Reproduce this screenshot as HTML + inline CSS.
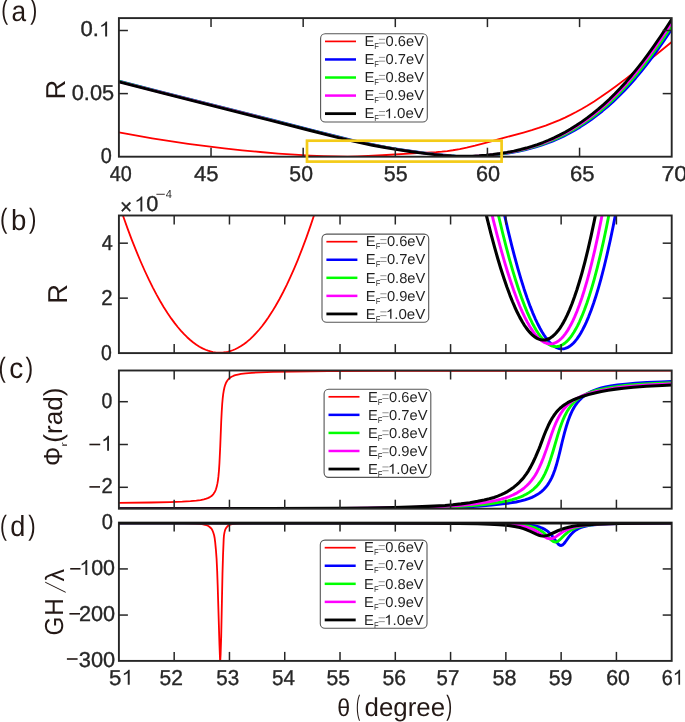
<!DOCTYPE html>
<html><head><meta charset="utf-8"><title>figure</title>
<style>html,body{margin:0;padding:0;background:#fff;overflow:hidden;}svg{display:block;will-change:transform;}text{font-family:"Liberation Sans", sans-serif;text-rendering:geometricPrecision;}</style>
</head><body>
<svg width="685" height="722" viewBox="0 0 685 722">
<rect x="0" y="0" width="685" height="722" fill="#ffffff"/>
<defs>
<clipPath id="ca"><rect x="118.90" y="18.10" width="552.80" height="138.60"/></clipPath>
<clipPath id="cb"><rect x="118.90" y="215.50" width="552.80" height="137.60"/></clipPath>
<clipPath id="cc"><rect x="118.90" y="370.50" width="552.80" height="138.20"/></clipPath>
<clipPath id="cd"><rect x="118.90" y="522.60" width="552.80" height="138.30"/></clipPath>
</defs>
<path d="M118.90,132.42L135.53,135.48L152.15,138.34L170.16,141.19L188.17,143.81L206.18,146.20L224.20,148.36L242.21,150.30L260.22,152.02L278.23,153.53L294.85,154.71L310.09,155.58L323.95,156.17L336.42,156.47L347.50,156.53L357.20,156.39L368.28,156.01L382.14,155.27L416.77,153.09L436.17,152.08L441.71,151.65L447.25,151.03L452.80,150.25L459.72,149.04L466.65,147.63L474.96,145.68L484.66,143.15L505.44,137.42L523.46,132.54L531.77,130.12L538.70,127.93L545.62,125.54L552.55,122.93L559.48,120.06L565.02,117.58L570.56,114.91L576.10,112.06L581.64,109.01L587.19,105.75L594.11,101.43L601.04,96.85L607.97,92.03L616.28,85.99L625.98,78.64L637.06,69.94L655.07,55.43L671.70,42.00" fill="none" stroke="#ff0000" stroke-width="1.80" stroke-linejoin="round" clip-path="url(#ca)"/>
<path d="M118.90,80.90L160.46,91.56L272.69,119.87L314.25,130.57L336.42,136.23L350.27,139.57L362.74,142.38L375.21,144.96L387.68,147.31L400.15,149.42L412.62,151.29L425.09,152.94L437.56,154.38L447.25,155.30L455.57,155.88L462.49,156.19L469.42,156.30L476.35,156.20L483.28,155.88L490.20,155.38L497.13,154.70L504.06,153.84L510.99,152.78L517.91,151.52L524.84,150.03L530.38,148.66L535.92,147.11L541.47,145.38L547.01,143.44L552.55,141.29L558.09,138.92L563.63,136.32L569.18,133.49L574.72,130.42L580.26,127.10L585.80,123.53L591.34,119.70L596.88,115.59L602.43,111.20L607.97,106.52L613.51,101.54L619.05,96.24L624.59,90.61L630.14,84.65L635.68,78.34L641.22,71.68L646.76,64.70L652.30,57.40L657.85,49.79L663.39,41.89L670.31,31.63L671.70,29.53" fill="none" stroke="#0000ff" stroke-width="2.40" stroke-linejoin="round" clip-path="url(#ca)"/>
<path d="M118.90,81.24L160.46,91.90L271.30,119.85L312.86,130.55L335.03,136.21L348.89,139.56L361.36,142.37L373.83,144.95L386.29,147.30L398.76,149.42L411.23,151.30L423.70,152.96L436.17,154.40L445.87,155.32L454.18,155.91L461.11,156.21L468.04,156.30L474.96,156.18L481.89,155.84L488.82,155.32L495.75,154.62L502.67,153.73L509.60,152.65L516.53,151.37L523.46,149.85L529.00,148.45L534.54,146.87L540.08,145.11L545.62,143.14L551.16,140.96L556.71,138.56L562.25,135.92L567.79,133.06L573.33,129.95L578.87,126.60L584.42,122.99L589.96,119.11L595.50,114.97L601.04,110.54L606.58,105.81L612.13,100.78L617.67,95.43L623.21,89.76L628.75,83.74L634.29,77.38L639.83,70.68L645.38,63.65L650.92,56.30L656.46,48.65L662.00,40.71L668.93,30.40L671.70,26.16" fill="none" stroke="#00ff00" stroke-width="2.40" stroke-linejoin="round" clip-path="url(#ca)"/>
<path d="M118.90,81.58L160.46,92.23L269.92,119.84L311.48,130.54L333.65,136.20L347.50,139.55L359.97,142.36L372.44,144.94L384.91,147.30L397.38,149.42L409.85,151.30L422.32,152.97L434.79,154.42L444.48,155.35L452.80,155.93L459.72,156.22L466.65,156.30L473.58,156.15L480.51,155.80L487.43,155.26L494.36,154.54L501.29,153.62L508.22,152.52L515.14,151.21L522.07,149.66L527.61,148.23L533.15,146.63L538.70,144.84L544.24,142.84L549.78,140.62L555.32,138.19L560.86,135.52L566.40,132.62L571.95,129.48L577.49,126.08L583.03,122.43L588.57,118.52L594.11,114.33L599.66,109.86L605.20,105.09L610.74,100.01L616.28,94.62L621.82,88.89L627.37,82.83L632.91,76.42L638.45,69.67L643.99,62.59L649.53,55.19L655.07,47.50L662.00,37.48L668.93,27.04L671.70,22.75" fill="none" stroke="#ff00ff" stroke-width="2.40" stroke-linejoin="round" clip-path="url(#ca)"/>
<path d="M118.90,81.93L161.85,92.92L268.53,119.82L310.09,130.52L332.26,136.18L347.50,139.85L359.97,142.64L372.44,145.21L384.91,147.54L397.38,149.64L409.85,151.50L422.32,153.15L434.79,154.59L443.10,155.37L451.41,155.95L458.34,156.23L465.27,156.30L472.19,156.13L479.12,155.76L486.05,155.20L492.98,154.45L499.90,153.51L506.83,152.39L513.76,151.05L520.68,149.47L526.23,148.02L531.77,146.38L537.31,144.56L542.85,142.53L548.39,140.28L553.94,137.81L559.48,135.11L565.02,132.17L570.56,128.99L576.10,125.56L581.64,121.88L587.19,117.92L592.73,113.69L598.27,109.18L603.81,104.36L609.35,99.24L614.90,93.80L620.44,88.02L625.98,81.91L631.52,75.45L637.06,68.64L642.61,61.52L648.15,54.08L653.69,46.34L660.62,36.27L667.54,25.78L671.70,19.30" fill="none" stroke="#000000" stroke-width="2.90" stroke-linejoin="round" clip-path="url(#ca)"/>
<g stroke="#262626" stroke-width="1.50" fill="none"><line x1="211.03" y1="156.70" x2="211.03" y2="147.70"/><line x1="211.03" y1="18.10" x2="211.03" y2="27.10"/><line x1="303.17" y1="156.70" x2="303.17" y2="147.70"/><line x1="303.17" y1="18.10" x2="303.17" y2="27.10"/><line x1="395.30" y1="156.70" x2="395.30" y2="147.70"/><line x1="395.30" y1="18.10" x2="395.30" y2="27.10"/><line x1="487.43" y1="156.70" x2="487.43" y2="147.70"/><line x1="487.43" y1="18.10" x2="487.43" y2="27.10"/><line x1="579.57" y1="156.70" x2="579.57" y2="147.70"/><line x1="579.57" y1="18.10" x2="579.57" y2="27.10"/><line x1="118.90" y1="93.60" x2="127.90" y2="93.60"/><line x1="671.70" y1="93.60" x2="662.70" y2="93.60"/><line x1="118.90" y1="30.50" x2="127.90" y2="30.50"/><line x1="671.70" y1="30.50" x2="662.70" y2="30.50"/></g>
<rect x="118.90" y="18.10" width="552.80" height="138.60" fill="none" stroke="#262626" stroke-width="1.90"/>
<rect x="307.0" y="140.7" width="194.6" height="20.9" fill="none" stroke="#f4cb18" stroke-width="2.7"/>
<rect x="320.60" y="33.80" width="106.70" height="88.20" rx="4.6" ry="4.6" fill="#ffffff" stroke="#555555" stroke-width="1.1"/>
<line x1="325.00" y1="41.40" x2="356.00" y2="41.40" stroke="#ff0000" stroke-width="1.70"/>
<text transform="translate(364.39,46.10) scale(1.0250,1)" font-size="14.40" fill="#1f1f1f">E</text>
<text transform="translate(374.27,49.10) scale(0.9300,1)" font-size="8.20" fill="#333333">F</text>
<path d="M378.90,39.30h6.2M378.90,43.10h6.2" stroke="#707070" stroke-width="0.75" fill="none"/>
<text transform="translate(385.53,46.10) scale(1.0215,1)" font-size="14.40" fill="#1f1f1f">0.6eV</text>
<line x1="325.00" y1="59.46" x2="356.00" y2="59.46" stroke="#0000ff" stroke-width="2.50"/>
<text transform="translate(364.39,64.16) scale(1.0250,1)" font-size="14.40" fill="#1f1f1f">E</text>
<text transform="translate(374.27,67.16) scale(0.9300,1)" font-size="8.20" fill="#333333">F</text>
<path d="M378.90,57.36h6.2M378.90,61.16h6.2" stroke="#707070" stroke-width="0.75" fill="none"/>
<text transform="translate(385.53,64.16) scale(1.0215,1)" font-size="14.40" fill="#1f1f1f">0.7eV</text>
<line x1="325.00" y1="77.52" x2="356.00" y2="77.52" stroke="#00ff00" stroke-width="2.50"/>
<text transform="translate(364.39,82.22) scale(1.0250,1)" font-size="14.40" fill="#1f1f1f">E</text>
<text transform="translate(374.27,85.22) scale(0.9300,1)" font-size="8.20" fill="#333333">F</text>
<path d="M378.90,75.42h6.2M378.90,79.22h6.2" stroke="#707070" stroke-width="0.75" fill="none"/>
<text transform="translate(385.53,82.22) scale(1.0215,1)" font-size="14.40" fill="#1f1f1f">0.8eV</text>
<line x1="325.00" y1="95.58" x2="356.00" y2="95.58" stroke="#ff00ff" stroke-width="2.50"/>
<text transform="translate(364.39,100.28) scale(1.0250,1)" font-size="14.40" fill="#1f1f1f">E</text>
<text transform="translate(374.27,103.28) scale(0.9300,1)" font-size="8.20" fill="#333333">F</text>
<path d="M378.90,93.48h6.2M378.90,97.28h6.2" stroke="#707070" stroke-width="0.75" fill="none"/>
<text transform="translate(385.53,100.28) scale(1.0215,1)" font-size="14.40" fill="#1f1f1f">0.9eV</text>
<line x1="325.00" y1="113.64" x2="356.00" y2="113.64" stroke="#000000" stroke-width="2.80"/>
<text transform="translate(364.39,118.34) scale(1.0250,1)" font-size="14.40" fill="#1f1f1f">E</text>
<text transform="translate(374.27,121.34) scale(0.9300,1)" font-size="8.20" fill="#333333">F</text>
<path d="M378.90,111.54h6.2M378.90,115.34h6.2" stroke="#707070" stroke-width="0.75" fill="none"/>
<g transform="translate(384.45,118.34) scale(1.0500,1)" fill="#1f1f1f"><path transform="translate(0.00,0) scale(0.00703,-0.00676)" d="M763 0H583V1147Q518 1085 412.5 1023Q307 961 223 930V1104Q374 1175 487 1276Q600 1377 647 1472H763Z"/><text x="8.01" y="0" font-size="14.40">.0eV</text></g>
<text transform="translate(109.75,180.70) scale(0.9169,1)" font-size="21.60" fill="#262626" stroke="#262626" stroke-width="0.35">40</text>
<text transform="translate(193.99,180.70) scale(1.0211,1)" font-size="21.60" fill="#262626" stroke="#262626" stroke-width="0.35">45</text>
<text transform="translate(289.35,180.70) scale(0.9813,1)" font-size="21.60" fill="#262626" stroke="#262626" stroke-width="0.35">50</text>
<text transform="translate(383.84,180.70) scale(0.9931,1)" font-size="21.60" fill="#262626" stroke="#262626" stroke-width="0.35">55</text>
<text transform="translate(476.00,180.70) scale(1.0007,1)" font-size="21.60" fill="#262626" stroke="#262626" stroke-width="0.35">60</text>
<text transform="translate(569.88,180.70) scale(1.0217,1)" font-size="21.60" fill="#262626" stroke="#262626" stroke-width="0.35">65</text>
<text transform="translate(661.41,180.70) scale(1.0782,1)" font-size="21.60" fill="#262626" stroke="#262626" stroke-width="0.35">70</text>
<g transform="translate(80.44,36.40) scale(1.0231,1)" fill="#262626" stroke="#262626" stroke-width="0.35"><text x="0.00" y="0" font-size="21.60">0.</text><path transform="translate(18.01,0) scale(0.01055,-0.01015)" d="M763 0H583V1147Q518 1085 412.5 1023Q307 961 223 930V1104Q374 1175 487 1276Q600 1377 647 1472H763Z"/></g>
<text transform="translate(71.75,99.50) scale(1.0077,1)" font-size="21.60" fill="#262626" stroke="#262626" stroke-width="0.35">0.05</text>
<text transform="translate(100.82,162.60) scale(0.9201,1)" font-size="21.60" fill="#262626" stroke="#262626" stroke-width="0.35">0</text>
<text transform="translate(1.21,19.40) scale(0.7409,1)" font-size="28.00" fill="#231815">(</text>
<text transform="translate(11.38,21.00) scale(0.9063,1)" font-size="29.00" fill="#231815">a</text>
<text transform="translate(30.28,19.40) scale(0.7543,1)" font-size="28.00" fill="#231815">)</text>
<text transform="translate(65.10,99.54) rotate(-90) scale(1.0000,1)" font-size="27.30" fill="#231815">R</text>
<path d="M118.90,203.69L123.20,216.32L127.51,228.37L131.81,239.82L136.12,250.70L140.42,261.01L144.73,270.75L149.03,279.93L152.72,287.35L156.41,294.36L160.10,300.97L163.79,307.18L167.48,312.98L171.17,318.39L174.86,323.40L177.93,327.27L181.01,330.86L184.08,334.18L187.15,337.23L190.23,340.00L193.30,342.50L196.38,344.73L199.45,346.68L202.53,348.36L205.60,349.76L208.06,350.69L210.52,351.44L212.98,352.02L215.44,352.42L217.90,352.65L220.36,352.70L222.82,352.57L225.28,352.26L227.74,351.78L230.20,351.11L232.66,350.27L235.12,349.25L237.58,348.05L240.65,346.29L243.73,344.26L246.80,341.93L249.87,339.32L252.95,336.42L256.02,333.22L259.10,329.74L262.17,325.96L265.25,321.88L268.32,317.51L272.01,311.86L275.70,305.77L279.39,299.24L283.08,292.26L286.77,284.83L290.46,276.95L294.15,268.60L297.84,259.78L302.14,248.89L306.45,237.35L310.75,225.15L315.05,212.27L319.36,198.71L323.66,184.45L327.97,169.48L332.27,153.80L336.58,137.38L339.65,125.20" fill="none" stroke="#ff0000" stroke-width="1.80" stroke-linejoin="round" clip-path="url(#cb)"/>
<path d="M492.76,158.12L497.07,180.04L500.76,197.88L504.45,214.81L508.14,230.83L511.82,245.90L514.90,257.74L517.97,268.91L521.05,279.39L524.12,289.17L527.20,298.26L530.27,306.63L532.73,312.81L535.19,318.52L537.65,323.75L540.11,328.51L541.95,331.75L543.80,334.73L545.64,337.43L547.49,339.85L549.33,341.98L551.18,343.84L553.02,345.41L554.87,346.69L556.71,347.68L557.94,348.18L559.17,348.55L560.40,348.79L561.63,348.89L562.86,348.87L564.09,348.71L565.32,348.41L566.55,347.99L567.78,347.42L569.63,346.32L571.47,344.92L573.32,343.20L575.16,341.17L577.00,338.83L578.85,336.17L580.69,333.20L582.54,329.90L584.38,326.28L586.23,322.33L588.69,316.56L591.15,310.21L593.61,303.26L596.07,295.71L598.53,287.56L600.99,278.80L604.06,266.99L607.13,254.21L610.21,240.46L613.28,225.71L616.36,209.97L619.43,193.21L622.51,175.44L626.20,152.75L626.81,148.83" fill="none" stroke="#0000ff" stroke-width="2.90" stroke-linejoin="round" clip-path="url(#cb)"/>
<path d="M486.61,159.52L490.92,180.79L495.22,200.94L498.91,217.28L502.60,232.75L506.29,247.33L509.36,258.78L512.44,269.59L515.51,279.74L518.59,289.22L521.66,298.02L524.74,306.13L527.20,312.11L529.66,317.64L532.12,322.70L534.58,327.29L536.42,330.43L538.27,333.29L540.11,335.89L541.95,338.21L543.80,340.25L545.64,342.01L547.49,343.49L549.33,344.69L551.18,345.60L552.41,346.04L553.64,346.36L554.87,346.54L556.10,346.60L557.33,346.52L558.56,346.31L559.79,345.97L561.02,345.50L562.86,344.53L564.71,343.26L566.55,341.68L568.40,339.79L570.24,337.59L572.09,335.07L573.93,332.23L575.77,329.07L577.62,325.59L579.46,321.79L581.92,316.20L584.38,310.03L586.84,303.26L589.30,295.89L591.76,287.91L594.22,279.32L597.30,267.71L600.37,255.13L603.45,241.55L606.52,226.97L609.59,211.37L612.67,194.75L615.74,177.09L618.82,158.39L620.66,146.66" fill="none" stroke="#00ff00" stroke-width="2.90" stroke-linejoin="round" clip-path="url(#cb)"/>
<path d="M480.46,163.60L484.77,183.46L489.07,202.37L493.38,220.30L497.07,234.85L500.76,248.62L504.45,261.58L507.52,271.73L510.59,281.29L513.67,290.24L516.74,298.55L519.82,306.22L522.28,311.88L524.74,317.11L527.20,321.90L529.66,326.24L531.50,329.19L533.35,331.89L535.19,334.32L537.04,336.49L538.88,338.39L540.73,340.01L542.57,341.35L544.41,342.42L546.26,343.20L547.49,343.56L548.72,343.79L549.95,343.89L551.18,343.87L552.41,343.71L553.64,343.41L554.87,342.99L556.10,342.43L557.94,341.33L559.79,339.92L561.63,338.20L563.48,336.17L565.32,333.81L567.17,331.14L569.01,328.13L570.86,324.80L572.70,321.14L574.54,317.13L577.00,311.27L579.46,304.79L581.92,297.69L584.38,289.96L586.84,281.59L589.30,272.58L591.76,262.92L594.84,249.91L597.91,235.85L600.99,220.73L604.06,204.52L607.13,187.22L610.21,168.80L613.28,149.26L613.90,145.21" fill="none" stroke="#ff00ff" stroke-width="2.90" stroke-linejoin="round" clip-path="url(#cb)"/>
<path d="M474.93,164.16L479.23,184.32L483.54,203.41L487.23,218.91L490.92,233.57L494.61,247.39L497.68,258.24L500.76,268.47L503.83,278.07L506.91,287.03L509.98,295.33L512.44,301.50L514.90,307.23L517.36,312.53L519.82,317.37L522.28,321.77L524.12,324.77L525.97,327.50L527.81,329.98L529.66,332.18L531.50,334.12L533.35,335.79L535.19,337.18L537.04,338.30L538.88,339.14L540.11,339.54L541.34,339.82L542.57,339.97L543.80,339.99L545.03,339.89L546.26,339.65L547.49,339.29L548.72,338.79L550.56,337.80L552.41,336.51L554.25,334.92L556.10,333.03L557.94,330.82L559.79,328.31L561.63,325.49L563.48,322.35L565.32,318.90L567.17,315.12L569.63,309.59L572.09,303.47L574.54,296.77L577.00,289.48L579.46,281.58L581.92,273.09L585.00,261.60L588.07,249.15L591.15,235.72L594.22,221.29L597.30,205.86L600.37,189.42L603.45,171.94L606.52,153.42L607.13,149.59" fill="none" stroke="#000000" stroke-width="3.10" stroke-linejoin="round" clip-path="url(#cb)"/>
<g stroke="#262626" stroke-width="1.50" fill="none"><line x1="174.18" y1="353.10" x2="174.18" y2="344.10"/><line x1="174.18" y1="215.50" x2="174.18" y2="224.50"/><line x1="229.46" y1="353.10" x2="229.46" y2="344.10"/><line x1="229.46" y1="215.50" x2="229.46" y2="224.50"/><line x1="284.74" y1="353.10" x2="284.74" y2="344.10"/><line x1="284.74" y1="215.50" x2="284.74" y2="224.50"/><line x1="340.02" y1="353.10" x2="340.02" y2="344.10"/><line x1="340.02" y1="215.50" x2="340.02" y2="224.50"/><line x1="395.30" y1="353.10" x2="395.30" y2="344.10"/><line x1="395.30" y1="215.50" x2="395.30" y2="224.50"/><line x1="450.58" y1="353.10" x2="450.58" y2="344.10"/><line x1="450.58" y1="215.50" x2="450.58" y2="224.50"/><line x1="505.86" y1="353.10" x2="505.86" y2="344.10"/><line x1="505.86" y1="215.50" x2="505.86" y2="224.50"/><line x1="561.14" y1="353.10" x2="561.14" y2="344.10"/><line x1="561.14" y1="215.50" x2="561.14" y2="224.50"/><line x1="616.42" y1="353.10" x2="616.42" y2="344.10"/><line x1="616.42" y1="215.50" x2="616.42" y2="224.50"/><line x1="118.90" y1="298.14" x2="127.90" y2="298.14"/><line x1="671.70" y1="298.14" x2="662.70" y2="298.14"/><line x1="118.90" y1="243.18" x2="127.90" y2="243.18"/><line x1="671.70" y1="243.18" x2="662.70" y2="243.18"/></g>
<rect x="118.90" y="215.50" width="552.80" height="137.60" fill="none" stroke="#262626" stroke-width="1.90"/>
<rect x="322.00" y="234.10" width="106.70" height="88.20" rx="4.6" ry="4.6" fill="#ffffff" stroke="#555555" stroke-width="1.1"/>
<line x1="326.40" y1="241.70" x2="357.40" y2="241.70" stroke="#ff0000" stroke-width="1.70"/>
<text transform="translate(365.79,246.40) scale(1.0250,1)" font-size="14.40" fill="#1f1f1f">E</text>
<text transform="translate(375.67,249.40) scale(0.9300,1)" font-size="8.20" fill="#333333">F</text>
<path d="M380.30,239.60h6.2M380.30,243.40h6.2" stroke="#707070" stroke-width="0.75" fill="none"/>
<text transform="translate(386.93,246.40) scale(1.0215,1)" font-size="14.40" fill="#1f1f1f">0.6eV</text>
<line x1="326.40" y1="259.76" x2="357.40" y2="259.76" stroke="#0000ff" stroke-width="2.50"/>
<text transform="translate(365.79,264.46) scale(1.0250,1)" font-size="14.40" fill="#1f1f1f">E</text>
<text transform="translate(375.67,267.46) scale(0.9300,1)" font-size="8.20" fill="#333333">F</text>
<path d="M380.30,257.66h6.2M380.30,261.46h6.2" stroke="#707070" stroke-width="0.75" fill="none"/>
<text transform="translate(386.93,264.46) scale(1.0215,1)" font-size="14.40" fill="#1f1f1f">0.7eV</text>
<line x1="326.40" y1="277.82" x2="357.40" y2="277.82" stroke="#00ff00" stroke-width="2.50"/>
<text transform="translate(365.79,282.52) scale(1.0250,1)" font-size="14.40" fill="#1f1f1f">E</text>
<text transform="translate(375.67,285.52) scale(0.9300,1)" font-size="8.20" fill="#333333">F</text>
<path d="M380.30,275.72h6.2M380.30,279.52h6.2" stroke="#707070" stroke-width="0.75" fill="none"/>
<text transform="translate(386.93,282.52) scale(1.0215,1)" font-size="14.40" fill="#1f1f1f">0.8eV</text>
<line x1="326.40" y1="295.88" x2="357.40" y2="295.88" stroke="#ff00ff" stroke-width="2.50"/>
<text transform="translate(365.79,300.58) scale(1.0250,1)" font-size="14.40" fill="#1f1f1f">E</text>
<text transform="translate(375.67,303.58) scale(0.9300,1)" font-size="8.20" fill="#333333">F</text>
<path d="M380.30,293.78h6.2M380.30,297.58h6.2" stroke="#707070" stroke-width="0.75" fill="none"/>
<text transform="translate(386.93,300.58) scale(1.0215,1)" font-size="14.40" fill="#1f1f1f">0.9eV</text>
<line x1="326.40" y1="313.94" x2="357.40" y2="313.94" stroke="#000000" stroke-width="2.80"/>
<text transform="translate(365.79,318.64) scale(1.0250,1)" font-size="14.40" fill="#1f1f1f">E</text>
<text transform="translate(375.67,321.64) scale(0.9300,1)" font-size="8.20" fill="#333333">F</text>
<path d="M380.30,311.84h6.2M380.30,315.64h6.2" stroke="#707070" stroke-width="0.75" fill="none"/>
<g transform="translate(385.85,318.64) scale(1.0500,1)" fill="#1f1f1f"><path transform="translate(0.00,0) scale(0.00703,-0.00676)" d="M763 0H583V1147Q518 1085 412.5 1023Q307 961 223 930V1104Q374 1175 487 1276Q600 1377 647 1472H763Z"/><text x="8.01" y="0" font-size="14.40">.0eV</text></g>
<text transform="translate(101.74,249.80) scale(0.9187,1)" font-size="21.60" fill="#262626" stroke="#262626" stroke-width="0.35">4</text>
<text transform="translate(101.17,304.50) scale(0.9451,1)" font-size="21.60" fill="#262626" stroke="#262626" stroke-width="0.35">2</text>
<text transform="translate(101.04,359.70) scale(0.9007,1)" font-size="21.60" fill="#262626" stroke="#262626" stroke-width="0.35">0</text>
<text transform="translate(120.05,213.70) scale(0.9658,1)" font-size="21.60" fill="#262626" stroke="#262626" stroke-width="0.35">×</text>
<g transform="translate(134.24,211.40) scale(1.0034,1)" fill="#262626" stroke="#262626" stroke-width="0.35"><path transform="translate(0.00,0) scale(0.01055,-0.01015)" d="M763 0H583V1147Q518 1085 412.5 1023Q307 961 223 930V1104Q374 1175 487 1276Q600 1377 647 1472H763Z"/><text x="12.01" y="0" font-size="21.60">0</text></g>
<line x1="156.4" y1="194.3" x2="164.8" y2="194.3" stroke="#4a4040" stroke-width="1.1"/>
<text transform="translate(165.84,198.40) scale(0.9580,1)" font-size="11.60" fill="#262626">4</text>
<text transform="translate(0.12,228.20) scale(0.7947,1)" font-size="28.00" fill="#231815">(</text>
<text transform="translate(11.02,229.80) scale(0.9508,1)" font-size="29.00" fill="#231815">b</text>
<text transform="translate(28.97,228.20) scale(0.7947,1)" font-size="28.00" fill="#231815">)</text>
<text transform="translate(67.40,303.84) rotate(-90) scale(1.0000,1)" font-size="27.30" fill="#231815">R</text>
<path d="M118.90,502.79L151.08,502.48L170.18,502.10L182.25,501.68L190.55,501.18L196.33,500.64L200.60,500.04L203.87,499.38L206.38,498.66L208.39,497.88L209.90,497.10L211.16,496.27L212.42,495.20L213.42,494.07L214.43,492.61L215.18,491.17L215.94,489.32L216.69,486.85L217.44,483.40L217.95,480.28L218.45,476.15L218.95,470.60L219.45,463.05L220.21,447.04L221.21,421.68L221.72,411.48L222.22,403.79L222.72,398.15L223.23,393.96L223.73,390.78L224.48,387.29L225.24,384.79L225.99,382.92L226.75,381.48L227.75,380.00L228.76,378.87L230.01,377.78L231.52,376.80L233.28,375.95L235.29,375.22L237.81,374.54L241.07,373.91L245.60,373.31L251.63,372.78L260.18,372.30L273.00,371.88L293.36,371.51L328.31,371.21L396.18,370.96L556.56,370.78L671.70,370.72" fill="none" stroke="#ff0000" stroke-width="1.80" stroke-linejoin="round" clip-path="url(#cc)"/>
<path d="M118.90,508.80L289.84,508.68L362.24,508.55L420.56,508.15L439.92,507.87L456.26,507.38L469.33,506.79L480.39,506.07L491.96,505.08L502.77,503.93L510.31,502.93L516.09,501.96L520.87,500.94L524.89,499.87L528.66,498.64L531.93,497.34L534.69,496.03L537.21,494.61L539.47,493.11L541.73,491.34L543.74,489.47L545.50,487.57L547.26,485.34L548.77,483.12L550.28,480.55L551.79,477.56L553.30,474.07L554.81,470.00L556.31,465.30L558.07,458.98L560.08,450.82L562.10,442.27L564.61,432.48L566.37,426.26L568.13,420.77L569.64,416.67L571.15,413.09L572.65,409.97L574.16,407.26L575.92,404.53L577.68,402.18L579.44,400.15L581.45,398.14L583.71,396.21L585.98,394.56L588.49,393.00L591.26,391.56L594.27,390.24L597.54,389.05L601.31,387.94L605.59,386.93L610.86,385.95L617.40,385.00L625.44,384.09L635.25,383.24L646.81,382.50L661.39,381.84L671.70,381.48" fill="none" stroke="#0000ff" stroke-width="2.90" stroke-linejoin="round" clip-path="url(#cc)"/>
<path d="M118.90,508.76L282.55,508.66L353.70,508.48L392.91,508.15L423.58,507.74L439.92,507.33L455.51,506.71L465.81,506.11L475.62,505.30L485.93,504.21L495.23,503.01L502.27,501.89L507.80,500.80L512.32,499.70L516.34,498.50L519.86,497.23L523.13,495.82L526.15,494.28L528.91,492.63L531.43,490.88L533.69,489.05L535.95,486.93L537.96,484.73L539.72,482.51L541.48,479.96L543.24,477.02L545.00,473.62L546.76,469.70L548.52,465.21L550.53,459.38L553.05,451.22L557.82,434.82L559.83,428.48L561.59,423.49L563.35,419.08L565.11,415.22L566.87,411.87L568.63,408.98L570.39,406.46L572.15,404.28L574.16,402.13L576.17,400.27L578.44,398.48L580.95,396.78L583.71,395.20L586.73,393.74L590.00,392.42L593.77,391.14L598.04,389.96L603.07,388.81L609.10,387.68L616.39,386.57L624.69,385.56L633.99,384.68L644.80,383.91L659.38,383.16L671.70,382.64" fill="none" stroke="#00ff00" stroke-width="2.90" stroke-linejoin="round" clip-path="url(#cc)"/>
<path d="M118.90,508.73L276.02,508.64L345.15,508.41L379.34,508.07L411.01,507.54L429.36,507.05L445.45,506.40L455.76,505.80L464.31,505.08L473.61,504.04L482.66,502.81L490.20,501.58L496.23,500.38L501.26,499.16L505.53,497.89L509.30,496.54L512.82,495.03L516.09,493.38L519.11,491.60L521.87,489.73L524.39,487.78L526.90,485.54L529.16,483.24L531.17,480.90L533.19,478.24L535.20,475.18L537.21,471.68L539.22,467.67L541.23,463.14L543.49,457.45L546.51,449.13L548.52,443.20L551.54,434.21L553.80,428.04L555.81,423.15L557.57,419.35L559.33,415.99L561.09,413.04L562.85,410.46L564.61,408.21L566.62,405.97L568.63,404.05L570.89,402.18L573.41,400.41L576.17,398.76L579.19,397.22L582.71,395.70L586.73,394.23L591.26,392.85L596.79,391.42L603.07,390.06L609.86,388.83L617.40,387.71L625.70,386.72L635.00,385.86L647.32,385.01L664.41,384.12L671.70,383.81" fill="none" stroke="#ff00ff" stroke-width="2.90" stroke-linejoin="round" clip-path="url(#cc)"/>
<path d="M118.90,508.70L269.23,508.62L336.35,508.33L367.27,507.98L394.42,507.45L416.29,506.83L433.89,506.12L444.95,505.49L452.99,504.82L461.04,503.90L469.84,502.66L477.63,501.34L484.17,500.02L489.44,498.74L493.97,497.44L497.74,496.13L501.26,494.69L504.53,493.11L507.80,491.29L510.81,489.35L513.83,487.15L516.59,484.87L519.36,482.30L521.87,479.65L524.14,476.95L526.40,473.88L528.41,470.80L530.67,466.90L532.93,462.50L535.45,457.09L538.97,448.84L539.97,446.34L543.74,436.24L546.26,430.03L548.27,425.54L550.28,421.53L552.29,418.01L554.05,415.30L556.06,412.60L558.07,410.27L560.08,408.26L562.35,406.31L564.86,404.46L567.63,402.72L570.64,401.09L574.16,399.46L578.18,397.86L582.96,396.22L588.49,394.57L594.78,392.95L601.31,391.51L608.10,390.26L615.64,389.12L623.43,388.18L633.24,387.27L646.31,386.32L662.15,385.44L671.70,385.03" fill="none" stroke="#000000" stroke-width="3.10" stroke-linejoin="round" clip-path="url(#cc)"/>
<g stroke="#262626" stroke-width="1.50" fill="none"><line x1="174.18" y1="508.70" x2="174.18" y2="499.70"/><line x1="174.18" y1="370.50" x2="174.18" y2="379.50"/><line x1="229.46" y1="508.70" x2="229.46" y2="499.70"/><line x1="229.46" y1="370.50" x2="229.46" y2="379.50"/><line x1="284.74" y1="508.70" x2="284.74" y2="499.70"/><line x1="284.74" y1="370.50" x2="284.74" y2="379.50"/><line x1="340.02" y1="508.70" x2="340.02" y2="499.70"/><line x1="340.02" y1="370.50" x2="340.02" y2="379.50"/><line x1="395.30" y1="508.70" x2="395.30" y2="499.70"/><line x1="395.30" y1="370.50" x2="395.30" y2="379.50"/><line x1="450.58" y1="508.70" x2="450.58" y2="499.70"/><line x1="450.58" y1="370.50" x2="450.58" y2="379.50"/><line x1="505.86" y1="508.70" x2="505.86" y2="499.70"/><line x1="505.86" y1="370.50" x2="505.86" y2="379.50"/><line x1="561.14" y1="508.70" x2="561.14" y2="499.70"/><line x1="561.14" y1="370.50" x2="561.14" y2="379.50"/><line x1="616.42" y1="508.70" x2="616.42" y2="499.70"/><line x1="616.42" y1="370.50" x2="616.42" y2="379.50"/><line x1="118.90" y1="401.70" x2="127.90" y2="401.70"/><line x1="671.70" y1="401.70" x2="662.70" y2="401.70"/><line x1="118.90" y1="444.50" x2="127.90" y2="444.50"/><line x1="671.70" y1="444.50" x2="662.70" y2="444.50"/><line x1="118.90" y1="487.30" x2="127.90" y2="487.30"/><line x1="671.70" y1="487.30" x2="662.70" y2="487.30"/></g>
<rect x="118.90" y="370.50" width="552.80" height="138.20" fill="none" stroke="#262626" stroke-width="1.90"/>
<rect x="324.10" y="389.20" width="106.70" height="88.20" rx="4.6" ry="4.6" fill="#ffffff" stroke="#555555" stroke-width="1.1"/>
<line x1="328.50" y1="396.80" x2="359.50" y2="396.80" stroke="#ff0000" stroke-width="1.70"/>
<text transform="translate(367.89,401.50) scale(1.0250,1)" font-size="14.40" fill="#1f1f1f">E</text>
<text transform="translate(377.77,404.50) scale(0.9300,1)" font-size="8.20" fill="#333333">F</text>
<path d="M382.40,394.70h6.2M382.40,398.50h6.2" stroke="#707070" stroke-width="0.75" fill="none"/>
<text transform="translate(389.03,401.50) scale(1.0215,1)" font-size="14.40" fill="#1f1f1f">0.6eV</text>
<line x1="328.50" y1="414.86" x2="359.50" y2="414.86" stroke="#0000ff" stroke-width="2.50"/>
<text transform="translate(367.89,419.56) scale(1.0250,1)" font-size="14.40" fill="#1f1f1f">E</text>
<text transform="translate(377.77,422.56) scale(0.9300,1)" font-size="8.20" fill="#333333">F</text>
<path d="M382.40,412.76h6.2M382.40,416.56h6.2" stroke="#707070" stroke-width="0.75" fill="none"/>
<text transform="translate(389.03,419.56) scale(1.0215,1)" font-size="14.40" fill="#1f1f1f">0.7eV</text>
<line x1="328.50" y1="432.92" x2="359.50" y2="432.92" stroke="#00ff00" stroke-width="2.50"/>
<text transform="translate(367.89,437.62) scale(1.0250,1)" font-size="14.40" fill="#1f1f1f">E</text>
<text transform="translate(377.77,440.62) scale(0.9300,1)" font-size="8.20" fill="#333333">F</text>
<path d="M382.40,430.82h6.2M382.40,434.62h6.2" stroke="#707070" stroke-width="0.75" fill="none"/>
<text transform="translate(389.03,437.62) scale(1.0215,1)" font-size="14.40" fill="#1f1f1f">0.8eV</text>
<line x1="328.50" y1="450.98" x2="359.50" y2="450.98" stroke="#ff00ff" stroke-width="2.50"/>
<text transform="translate(367.89,455.68) scale(1.0250,1)" font-size="14.40" fill="#1f1f1f">E</text>
<text transform="translate(377.77,458.68) scale(0.9300,1)" font-size="8.20" fill="#333333">F</text>
<path d="M382.40,448.88h6.2M382.40,452.68h6.2" stroke="#707070" stroke-width="0.75" fill="none"/>
<text transform="translate(389.03,455.68) scale(1.0215,1)" font-size="14.40" fill="#1f1f1f">0.9eV</text>
<line x1="328.50" y1="469.04" x2="359.50" y2="469.04" stroke="#000000" stroke-width="2.80"/>
<text transform="translate(367.89,473.74) scale(1.0250,1)" font-size="14.40" fill="#1f1f1f">E</text>
<text transform="translate(377.77,476.74) scale(0.9300,1)" font-size="8.20" fill="#333333">F</text>
<path d="M382.40,466.94h6.2M382.40,470.74h6.2" stroke="#707070" stroke-width="0.75" fill="none"/>
<g transform="translate(387.95,473.74) scale(1.0500,1)" fill="#1f1f1f"><path transform="translate(0.00,0) scale(0.00703,-0.00676)" d="M763 0H583V1147Q518 1085 412.5 1023Q307 961 223 930V1104Q374 1175 487 1276Q600 1377 647 1472H763Z"/><text x="8.01" y="0" font-size="14.40">.0eV</text></g>
<text transform="translate(101.44,408.10) scale(0.9007,1)" font-size="21.60" fill="#262626" stroke="#262626" stroke-width="0.35">0</text>
<line x1="89.40" y1="444.50" x2="100.20" y2="444.50" stroke="#231815" stroke-width="1.60"/>
<g transform="translate(101.09,450.80) scale(0.9833,1)" fill="#262626" stroke="#262626" stroke-width="0.35"><path transform="translate(0.00,0) scale(0.01055,-0.01015)" d="M763 0H583V1147Q518 1085 412.5 1023Q307 961 223 930V1104Q374 1175 487 1276Q600 1377 647 1472H763Z"/></g>
<line x1="89.40" y1="486.90" x2="100.00" y2="486.90" stroke="#231815" stroke-width="1.60"/>
<text transform="translate(101.38,493.20) scale(0.9349,1)" font-size="21.60" fill="#262626" stroke="#262626" stroke-width="0.35">2</text>
<text transform="translate(-1.56,376.90) scale(0.7813,1)" font-size="28.00" fill="#231815">(</text>
<text transform="translate(9.21,377.80) scale(0.9677,1)" font-size="29.00" fill="#231815">c</text>
<text transform="translate(25.47,376.90) scale(0.8217,1)" font-size="28.00" fill="#231815">)</text>
<text transform="translate(62.20,465.98) rotate(-90) scale(0.9277,1)" font-size="26.00" fill="#231815">Φ</text>
<text transform="translate(67.10,446.70) rotate(-90) scale(1.5000,1)" font-size="9.00" fill="#231815">r</text>
<text transform="translate(62.20,442.72) rotate(-90) scale(1.0025,1)" font-size="26.00" fill="#231815">(rad)</text>
<path d="M118.90,522.88L168.79,522.94L183.91,523.17L196.01,523.54L199.03,523.79L202.05,524.23L205.08,524.85L206.59,525.24L208.34,526.05L209.66,526.97L211.05,528.24L211.77,529.16L212.49,530.49L213.27,532.46L214.12,535.26L214.60,537.72L215.20,542.39L215.98,550.68L216.58,558.71L217.18,571.24L217.66,584.77L219.41,643.10L220.07,660.70L220.13,661.35L220.31,660.03L220.61,654.51L221.21,636.22L222.48,573.66L223.02,555.54L223.68,539.35L223.92,535.86L224.40,532.91L224.94,530.64L225.48,529.11L226.02,528.11L227.11,526.73L228.13,525.75L229.09,525.10L230.05,524.71L232.10,524.22L235.79,523.61L239.49,523.32L254.26,523.02L272.74,522.86L671.70,522.80" fill="none" stroke="#ff0000" stroke-width="1.80" stroke-linejoin="round" clip-path="url(#cd)"/>
<path d="M118.90,522.81L401.96,522.89L464.56,523.06L492.21,523.30L507.80,523.62L517.85,524.03L524.89,524.52L529.92,525.06L533.94,525.69L537.21,526.41L539.97,527.23L542.24,528.10L544.25,529.08L546.01,530.14L547.77,531.44L549.53,533.03L551.29,534.93L553.30,537.49L556.82,542.42L558.07,543.91L559.08,544.81L559.83,545.26L560.59,545.48L561.34,545.46L562.10,545.20L562.85,544.71L563.85,543.77L565.11,542.25L569.13,536.65L570.89,534.49L572.65,532.66L574.41,531.14L576.17,529.90L578.18,528.75L580.45,527.73L582.96,526.86L585.98,526.08L589.50,525.41L594.02,524.80L600.05,524.27L608.35,523.82L620.42,523.46L640.28,523.18L671.70,522.99" fill="none" stroke="#0000ff" stroke-width="2.90" stroke-linejoin="round" clip-path="url(#cd)"/>
<path d="M118.90,522.81L388.64,522.90L452.99,523.07L481.90,523.31L498.49,523.64L509.05,524.04L516.59,524.53L522.38,525.11L526.90,525.77L530.42,526.50L533.44,527.33L535.95,528.22L538.21,529.23L540.48,530.49L542.49,531.86L544.50,533.48L547.01,535.84L550.53,539.36L552.04,540.65L553.05,541.31L554.05,541.77L554.81,541.95L555.56,542.00L556.31,541.89L557.32,541.54L558.32,540.96L559.58,539.98L561.59,538.07L565.11,534.55L567.37,532.58L569.39,531.10L571.40,529.86L573.66,528.73L576.17,527.72L578.94,526.87L582.21,526.09L586.23,525.40L591.26,524.79L597.79,524.27L606.84,523.82L620.17,523.46L642.04,523.17L671.70,523.01" fill="none" stroke="#00ff00" stroke-width="2.90" stroke-linejoin="round" clip-path="url(#cd)"/>
<path d="M118.90,522.82L376.07,522.91L441.93,523.08L472.10,523.33L489.44,523.66L500.76,524.07L508.80,524.55L515.09,525.13L519.86,525.78L523.88,526.53L527.15,527.34L530.17,528.30L532.93,529.42L535.45,530.66L537.96,532.14L541.23,534.37L544.75,536.82L546.51,537.83L547.77,538.36L549.02,538.70L550.28,538.80L551.54,538.67L552.79,538.30L554.30,537.61L556.31,536.39L561.84,532.53L564.61,530.85L567.12,529.57L569.89,528.43L572.90,527.44L576.17,526.60L580.20,525.83L584.97,525.17L591.00,524.59L599.05,524.10L610.36,523.68L627.46,523.34L657.12,523.09L671.70,523.02" fill="none" stroke="#ff00ff" stroke-width="2.90" stroke-linejoin="round" clip-path="url(#cd)"/>
<path d="M118.90,522.82L359.73,522.92L427.10,523.10L459.03,523.36L477.63,523.70L489.95,524.12L499.00,524.63L505.78,525.22L511.32,525.91L515.84,526.69L519.86,527.60L523.38,528.63L526.65,529.80L530.42,531.42L536.71,534.36L538.97,535.23L540.73,535.71L542.49,535.97L544.00,535.99L545.50,535.82L547.26,535.41L549.27,534.70L552.54,533.24L557.82,530.77L561.34,529.35L564.86,528.18L568.63,527.19L572.90,526.32L577.93,525.57L583.97,524.93L591.76,524.37L602.07,523.91L616.90,523.53L640.53,523.23L671.70,523.05" fill="none" stroke="#000000" stroke-width="3.10" stroke-linejoin="round" clip-path="url(#cd)"/>
<g stroke="#262626" stroke-width="1.50" fill="none"><line x1="174.18" y1="660.90" x2="174.18" y2="651.90"/><line x1="174.18" y1="522.60" x2="174.18" y2="531.60"/><line x1="229.46" y1="660.90" x2="229.46" y2="651.90"/><line x1="229.46" y1="522.60" x2="229.46" y2="531.60"/><line x1="284.74" y1="660.90" x2="284.74" y2="651.90"/><line x1="284.74" y1="522.60" x2="284.74" y2="531.60"/><line x1="340.02" y1="660.90" x2="340.02" y2="651.90"/><line x1="340.02" y1="522.60" x2="340.02" y2="531.60"/><line x1="395.30" y1="660.90" x2="395.30" y2="651.90"/><line x1="395.30" y1="522.60" x2="395.30" y2="531.60"/><line x1="450.58" y1="660.90" x2="450.58" y2="651.90"/><line x1="450.58" y1="522.60" x2="450.58" y2="531.60"/><line x1="505.86" y1="660.90" x2="505.86" y2="651.90"/><line x1="505.86" y1="522.60" x2="505.86" y2="531.60"/><line x1="561.14" y1="660.90" x2="561.14" y2="651.90"/><line x1="561.14" y1="522.60" x2="561.14" y2="531.60"/><line x1="616.42" y1="660.90" x2="616.42" y2="651.90"/><line x1="616.42" y1="522.60" x2="616.42" y2="531.60"/><line x1="118.90" y1="568.93" x2="127.90" y2="568.93"/><line x1="671.70" y1="568.93" x2="662.70" y2="568.93"/><line x1="118.90" y1="615.06" x2="127.90" y2="615.06"/><line x1="671.70" y1="615.06" x2="662.70" y2="615.06"/></g>
<rect x="118.90" y="522.60" width="552.80" height="138.30" fill="none" stroke="#262626" stroke-width="1.90"/>
<line x1="118.90" y1="523.3" x2="671.70" y2="523.3" stroke="#141414" stroke-width="2.5"/>
<rect x="320.30" y="540.10" width="106.70" height="88.20" rx="4.6" ry="4.6" fill="#ffffff" stroke="#555555" stroke-width="1.1"/>
<line x1="324.70" y1="547.70" x2="355.70" y2="547.70" stroke="#ff0000" stroke-width="1.70"/>
<text transform="translate(364.09,552.40) scale(1.0250,1)" font-size="14.40" fill="#1f1f1f">E</text>
<text transform="translate(373.97,555.40) scale(0.9300,1)" font-size="8.20" fill="#333333">F</text>
<path d="M378.60,545.60h6.2M378.60,549.40h6.2" stroke="#707070" stroke-width="0.75" fill="none"/>
<text transform="translate(385.23,552.40) scale(1.0215,1)" font-size="14.40" fill="#1f1f1f">0.6eV</text>
<line x1="324.70" y1="565.76" x2="355.70" y2="565.76" stroke="#0000ff" stroke-width="2.50"/>
<text transform="translate(364.09,570.46) scale(1.0250,1)" font-size="14.40" fill="#1f1f1f">E</text>
<text transform="translate(373.97,573.46) scale(0.9300,1)" font-size="8.20" fill="#333333">F</text>
<path d="M378.60,563.66h6.2M378.60,567.46h6.2" stroke="#707070" stroke-width="0.75" fill="none"/>
<text transform="translate(385.23,570.46) scale(1.0215,1)" font-size="14.40" fill="#1f1f1f">0.7eV</text>
<line x1="324.70" y1="583.82" x2="355.70" y2="583.82" stroke="#00ff00" stroke-width="2.50"/>
<text transform="translate(364.09,588.52) scale(1.0250,1)" font-size="14.40" fill="#1f1f1f">E</text>
<text transform="translate(373.97,591.52) scale(0.9300,1)" font-size="8.20" fill="#333333">F</text>
<path d="M378.60,581.72h6.2M378.60,585.52h6.2" stroke="#707070" stroke-width="0.75" fill="none"/>
<text transform="translate(385.23,588.52) scale(1.0215,1)" font-size="14.40" fill="#1f1f1f">0.8eV</text>
<line x1="324.70" y1="601.88" x2="355.70" y2="601.88" stroke="#ff00ff" stroke-width="2.50"/>
<text transform="translate(364.09,606.58) scale(1.0250,1)" font-size="14.40" fill="#1f1f1f">E</text>
<text transform="translate(373.97,609.58) scale(0.9300,1)" font-size="8.20" fill="#333333">F</text>
<path d="M378.60,599.78h6.2M378.60,603.58h6.2" stroke="#707070" stroke-width="0.75" fill="none"/>
<text transform="translate(385.23,606.58) scale(1.0215,1)" font-size="14.40" fill="#1f1f1f">0.9eV</text>
<line x1="324.70" y1="619.94" x2="355.70" y2="619.94" stroke="#000000" stroke-width="2.80"/>
<text transform="translate(364.09,624.64) scale(1.0250,1)" font-size="14.40" fill="#1f1f1f">E</text>
<text transform="translate(373.97,627.64) scale(0.9300,1)" font-size="8.20" fill="#333333">F</text>
<path d="M378.60,617.84h6.2M378.60,621.64h6.2" stroke="#707070" stroke-width="0.75" fill="none"/>
<g transform="translate(384.15,624.64) scale(1.0500,1)" fill="#1f1f1f"><path transform="translate(0.00,0) scale(0.00703,-0.00676)" d="M763 0H583V1147Q518 1085 412.5 1023Q307 961 223 930V1104Q374 1175 487 1276Q600 1377 647 1472H763Z"/><text x="8.01" y="0" font-size="14.40">.0eV</text></g>
<text transform="translate(101.82,529.30) scale(0.9297,1)" font-size="21.60" fill="#262626" stroke="#262626" stroke-width="0.35">0</text>
<line x1="70.20" y1="568.80" x2="80.50" y2="568.80" stroke="#231815" stroke-width="1.60"/>
<g transform="translate(79.27,575.00) scale(0.9926,1)" fill="#262626" stroke="#262626" stroke-width="0.35"><path transform="translate(0.00,0) scale(0.01055,-0.01015)" d="M763 0H583V1147Q518 1085 412.5 1023Q307 961 223 930V1104Q374 1175 487 1276Q600 1377 647 1472H763Z"/><text x="12.01" y="0" font-size="21.60">00</text></g>
<line x1="69.40" y1="613.80" x2="80.00" y2="613.80" stroke="#231815" stroke-width="1.60"/>
<text transform="translate(78.91,621.30) scale(1.0027,1)" font-size="21.60" fill="#262626" stroke="#262626" stroke-width="0.35">200</text>
<line x1="66.90" y1="659.00" x2="77.60" y2="659.00" stroke="#231815" stroke-width="1.60"/>
<text transform="translate(78.87,667.30) scale(1.0095,1)" font-size="21.60" fill="#262626" stroke="#262626" stroke-width="0.35">300</text>
<g transform="translate(109.01,684.70) scale(1.0315,1)" fill="#262626" stroke="#262626" stroke-width="0.35"><text x="0.00" y="0" font-size="21.60">5</text><path transform="translate(12.01,0) scale(0.01055,-0.01015)" d="M763 0H583V1147Q518 1085 412.5 1023Q307 961 223 930V1104Q374 1175 487 1276Q600 1377 647 1472H763Z"/></g>
<text transform="translate(159.46,684.70) scale(0.9740,1)" font-size="21.60" fill="#262626" stroke="#262626" stroke-width="0.35">52</text>
<text transform="translate(216.17,684.70) scale(0.9545,1)" font-size="21.60" fill="#262626" stroke="#262626" stroke-width="0.35">53</text>
<text transform="translate(271.97,684.70) scale(0.9544,1)" font-size="21.60" fill="#262626" stroke="#262626" stroke-width="0.35">54</text>
<text transform="translate(326.45,684.70) scale(0.9796,1)" font-size="21.60" fill="#262626" stroke="#262626" stroke-width="0.35">55</text>
<text transform="translate(382.55,684.70) scale(0.9815,1)" font-size="21.60" fill="#262626" stroke="#262626" stroke-width="0.35">56</text>
<text transform="translate(436.58,684.70) scale(0.9468,1)" font-size="21.60" fill="#262626" stroke="#262626" stroke-width="0.35">57</text>
<text transform="translate(492.54,684.70) scale(0.9990,1)" font-size="21.60" fill="#262626" stroke="#262626" stroke-width="0.35">58</text>
<text transform="translate(548.64,684.70) scale(0.9893,1)" font-size="21.60" fill="#262626" stroke="#262626" stroke-width="0.35">59</text>
<text transform="translate(606.22,684.70) scale(0.9871,1)" font-size="21.60" fill="#262626" stroke="#262626" stroke-width="0.35">60</text>
<g transform="translate(661.69,684.70) scale(0.9176,1)" fill="#262626" stroke="#262626" stroke-width="0.35"><text x="0.00" y="0" font-size="21.60">6</text><path transform="translate(12.01,0) scale(0.01055,-0.01015)" d="M763 0H583V1147Q518 1085 412.5 1023Q307 961 223 930V1104Q374 1175 487 1276Q600 1377 647 1472H763Z"/></g>
<text transform="translate(-0.09,534.80) scale(0.7409,1)" font-size="28.00" fill="#231815">(</text>
<text transform="translate(10.16,536.40) scale(0.9355,1)" font-size="29.00" fill="#231815">d</text>
<text transform="translate(28.27,534.80) scale(0.7947,1)" font-size="28.00" fill="#231815">)</text>
<text transform="translate(63.30,635.52) rotate(-90) scale(0.9309,1)" font-size="26.00" fill="#231815">G</text>
<text transform="translate(63.30,615.78) rotate(-90) scale(0.9295,1)" font-size="26.00" fill="#231815">H</text>
<line x1="65.7" y1="592.3" x2="45.2" y2="582.2" stroke="#231815" stroke-width="1.0"/>
<text transform="translate(64.00,581.47) rotate(-90) scale(0.9427,1)" font-size="26.50" fill="#231815">λ</text>
<text transform="translate(337.30,715.70) scale(0.9468,1)" font-size="24.50" fill="#231815">θ</text>
<text transform="translate(355.93,714.60) scale(0.4445,1)" font-size="28.00" fill="#231815">(</text>
<text transform="translate(364.51,715.60) scale(0.9948,1)" font-size="26.00" fill="#231815">degree</text>
<text transform="translate(446.20,714.60) scale(0.6331,1)" font-size="28.00" fill="#231815">)</text>
</svg></body></html>
